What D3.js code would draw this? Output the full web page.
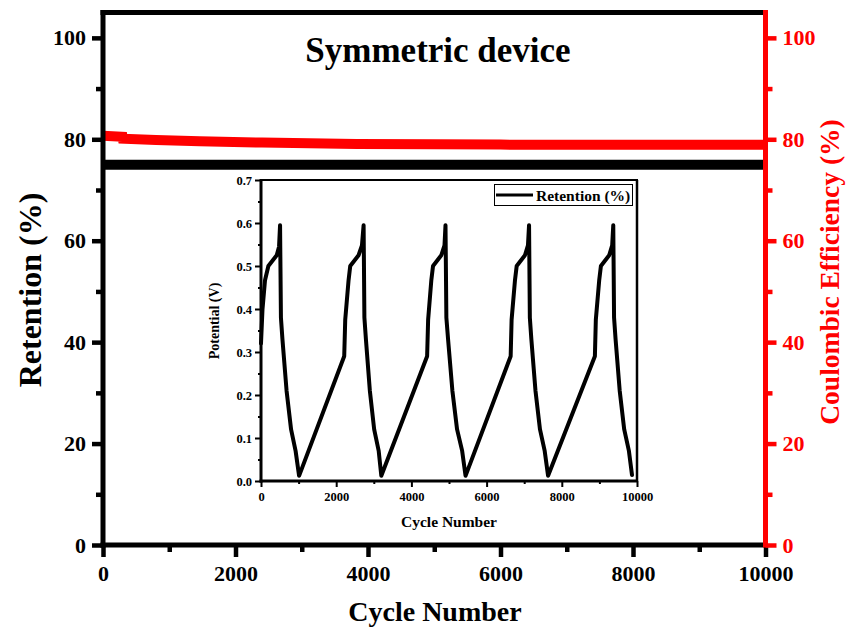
<!DOCTYPE html>
<html>
<head>
<meta charset="utf-8">
<script src="https://cdn.jsdelivr.net/npm/d3@7"></script>
<style>
  html, body { margin: 0; padding: 0; background: #fff; }
  svg { display: block; font-family: "Liberation Serif", "Times New Roman", serif; font-weight: bold; }
</style>
</head>
<body>
<svg id="chart" width="847" height="629"></svg>
<script>
// Long-term cycling of the symmetric device
const retentionCycles = [0, 300, 2000, 4000, 6000, 8000, 10000];
const retentionValues = [75, 75, 75, 75, 75, 75, 75];

const ceCycles = [0, 295, 300, 800, 1460, 2400, 3830, 5000, 6000, 8000, 10000];
const ceValues = [80.7, 80.5, 80.1, 79.85, 79.6, 79.35, 79.05, 79.0, 78.95, 78.9, 78.9];

const mainXTicks = [0, 2000, 4000, 6000, 8000, 10000];
const mainXMinor = [1000, 3000, 5000, 7000, 9000];
const mainYTicks = [0, 20, 40, 60, 80, 100];
const mainYMinor = [10, 30, 50, 70, 90];

// Galvanostatic charge/discharge trace shown in the inset
const insetX = [
  0, 40, 107, 196, 418, 480, 507, 530, 570, 680, 800, 920, 1013,
  2213, 2240, 2329, 2373, 2595, 2685, 2729, 2750, 2790, 2895, 3010, 3130, 3200,
  4418, 4445, 4530, 4575, 4795, 4880, 4907, 4930, 4975, 5090, 5215, 5350, 5440,
  6640, 6665, 6755, 6800, 7020, 7100, 7129, 7150, 7190, 7300, 7420, 7545, 7635,
  8880, 8905, 8995, 9040, 9260, 9340, 9369, 9390, 9430, 9540, 9660, 9785, 9867
];
const insetY = [
  0.32, 0.40, 0.467, 0.50, 0.525, 0.545, 0.595, 0.38, 0.33, 0.21, 0.12, 0.07, 0.012,
  0.29, 0.375, 0.467, 0.50, 0.525, 0.548, 0.595, 0.38, 0.33, 0.21, 0.12, 0.07, 0.012,
  0.29, 0.375, 0.467, 0.50, 0.525, 0.548, 0.595, 0.38, 0.33, 0.21, 0.12, 0.07, 0.012,
  0.29, 0.375, 0.467, 0.50, 0.525, 0.548, 0.595, 0.38, 0.33, 0.21, 0.12, 0.07, 0.012,
  0.29, 0.375, 0.467, 0.50, 0.525, 0.548, 0.595, 0.38, 0.33, 0.21, 0.12, 0.07, 0.014
];
const insetXTicks = [0, 2000, 4000, 6000, 8000, 10000];
const insetXMinor = [1000, 3000, 5000, 7000, 9000];
const insetYTicks = [0.0, 0.1, 0.2, 0.3, 0.4, 0.5, 0.6, 0.7];
const insetYMinor = [0.05, 0.15, 0.25, 0.35, 0.45, 0.55, 0.65];

const svg = d3.select("#chart");
const RED = "#ff0000";

// ---------- main panel ----------
const M = { left: 103, right: 765.5, top: 12.5, bottom: 545 };
const x = d3.scaleLinear().domain([0, 10000]).range([M.left, M.right]);
const y = d3.scaleLinear().domain([0, 105]).range([M.bottom, M.top]);

const retention = retentionCycles.map((c, i) => [c, retentionValues[i]]);
const ce = ceCycles.map((c, i) => [c, ceValues[i]]);
const line = d3.line().x(d => x(d[0])).y(d => y(d[1]));

svg.append("path").datum(ce).attr("d", line)
  .attr("fill", "none").attr("stroke", RED).attr("stroke-width", 10);
svg.append("path").datum(retention).attr("d", line)
  .attr("fill", "none").attr("stroke", "#000").attr("stroke-width", 10);

function styleAxis(g, color, fontSize, width) {
  g.select(".domain").remove();
  g.selectAll(".tick line").attr("stroke", color).attr("stroke-width", width);
  g.selectAll(".tick text").attr("fill", color)
    .style("font-family", '"Liberation Serif", "Times New Roman", serif')
    .style("font-weight", "bold").style("font-size", fontSize + "px");
}

// minor ticks
svg.append("g").attr("transform", `translate(0,${M.bottom})`)
  .call(d3.axisBottom(x).tickValues(mainXMinor).tickSize(7).tickFormat(""))
  .call(g => styleAxis(g, "#000", 22, 4.5));
svg.append("g").attr("transform", `translate(${M.left},0)`)
  .call(d3.axisLeft(y).tickValues(mainYMinor).tickSize(7).tickFormat(""))
  .call(g => styleAxis(g, "#000", 22, 4.5));
svg.append("g").attr("transform", `translate(${M.right},0)`)
  .call(d3.axisRight(y).tickValues(mainYMinor).tickSize(7).tickFormat(""))
  .call(g => styleAxis(g, RED, 22, 4.5));

// major ticks with labels
svg.append("g").attr("transform", `translate(0,${M.bottom})`)
  .call(d3.axisBottom(x).tickValues(mainXTicks).tickSize(12).tickPadding(8).tickFormat(d3.format("d")))
  .call(g => styleAxis(g, "#000", 22, 4.5));
svg.append("g").attr("transform", `translate(${M.left},0)`)
  .call(d3.axisLeft(y).tickValues(mainYTicks).tickSize(11).tickPadding(6).tickFormat(d3.format("d")))
  .call(g => styleAxis(g, "#000", 22, 4.5));
svg.append("g").attr("transform", `translate(${M.right},0)`)
  .call(d3.axisRight(y).tickValues(mainYTicks).tickSize(11).tickPadding(6).tickFormat(d3.format("d")))
  .call(g => styleAxis(g, RED, 22, 4.5));

// frame: black left/top/bottom, red right
svg.append("line").attr("x1", M.left).attr("x2", M.left).attr("y1", M.top - 2.5).attr("y2", M.bottom + 2.5)
  .attr("stroke", "#000").attr("stroke-width", 5);
svg.append("line").attr("x1", M.left - 2.5).attr("x2", M.right).attr("y1", M.top).attr("y2", M.top)
  .attr("stroke", "#000").attr("stroke-width", 5);
svg.append("line").attr("x1", M.left - 2.5).attr("x2", M.right).attr("y1", M.bottom).attr("y2", M.bottom)
  .attr("stroke", "#000").attr("stroke-width", 5);
svg.append("line").attr("x1", M.right).attr("x2", M.right).attr("y1", M.top - 2.5).attr("y2", M.bottom + 2.5)
  .attr("stroke", RED).attr("stroke-width", 5);

svg.append("text").attr("x", 438).attr("y", 62).attr("text-anchor", "middle")
  .style("font-size", "35px").text("Symmetric device");
svg.append("text").attr("x", 435).attr("y", 621).attr("text-anchor", "middle")
  .style("font-size", "28px").text("Cycle Number");
svg.append("text").attr("transform", "translate(41,290) rotate(-90)").attr("text-anchor", "middle")
  .style("font-size", "32px").text("Retention (%)");
svg.append("text").attr("transform", "translate(839,272) rotate(-90)").attr("text-anchor", "middle")
  .attr("fill", RED).style("font-size", "27.5px").text("Coulombic Efficiency (%)");

// ---------- inset ----------
const I = { left: 261, right: 637, top: 180, bottom: 481 };
const ix = d3.scaleLinear().domain([0, 10000]).range([I.left, I.right]);
const iy = d3.scaleLinear().domain([0, 0.7]).range([I.bottom, I.top]);

svg.append("rect").attr("x", I.left).attr("y", I.top)
  .attr("width", I.right - I.left).attr("height", I.bottom - I.top).attr("fill", "#fff");

const trace = insetX.map((c, i) => [c, insetY[i]]);
svg.append("path").datum(trace)
  .attr("d", d3.line().x(d => ix(d[0])).y(d => iy(d[1])))
  .attr("fill", "none").attr("stroke", "#000").attr("stroke-width", 4)
  .attr("stroke-linejoin", "round").attr("stroke-linecap", "round");

svg.append("g").attr("transform", `translate(0,${I.bottom})`)
  .call(d3.axisBottom(ix).tickValues(insetXMinor).tickSize(3).tickFormat(""))
  .call(g => styleAxis(g, "#000", 12, 2));
svg.append("g").attr("transform", `translate(${I.left},0)`)
  .call(d3.axisLeft(iy).tickValues(insetYMinor).tickSize(3).tickFormat(""))
  .call(g => styleAxis(g, "#000", 12, 2));
svg.append("g").attr("transform", `translate(0,${I.bottom})`)
  .call(d3.axisBottom(ix).tickValues(insetXTicks).tickSize(6).tickPadding(5).tickFormat(d3.format("d")))
  .call(g => styleAxis(g, "#000", 12.5, 2));
svg.append("g").attr("transform", `translate(${I.left},0)`)
  .call(d3.axisLeft(iy).tickValues(insetYTicks).tickSize(6).tickPadding(3).tickFormat(d3.format(".1f")))
  .call(g => styleAxis(g, "#000", 12.5, 2));

svg.append("line").attr("x1", I.left).attr("x2", I.left).attr("y1", I.top - 1).attr("y2", I.bottom + 1.5)
  .attr("stroke", "#000").attr("stroke-width", 3);
svg.append("line").attr("x1", I.left - 1.5).attr("x2", I.right + 1).attr("y1", I.bottom).attr("y2", I.bottom)
  .attr("stroke", "#000").attr("stroke-width", 3);
svg.append("line").attr("x1", I.left).attr("x2", I.right + 1).attr("y1", I.top).attr("y2", I.top)
  .attr("stroke", "#000").attr("stroke-width", 2);
svg.append("line").attr("x1", I.right).attr("x2", I.right).attr("y1", I.top).attr("y2", I.bottom)
  .attr("stroke", "#000").attr("stroke-width", 2.5);

svg.append("text").attr("transform", "translate(219,321) rotate(-90)").attr("text-anchor", "middle")
  .style("font-size", "14px").text("Potential (V)");
svg.append("text").attr("x", 449).attr("y", 527).attr("text-anchor", "middle")
  .style("font-size", "15.5px").text("Cycle Number");

// legend
const lg = svg.append("g");
lg.append("rect").attr("x", 494.5).attr("y", 184.5).attr("width", 138).attr("height", 21)
  .attr("fill", "#fff").attr("stroke", "#000").attr("stroke-width", 1);
lg.append("line").attr("x1", 496).attr("x2", 533).attr("y1", 195).attr("y2", 195)
  .attr("stroke", "#000").attr("stroke-width", 3);
lg.append("text").attr("x", 536).attr("y", 200.5).style("font-size", "15.5px").text("Retention (%)");
</script>
</body>
</html>
